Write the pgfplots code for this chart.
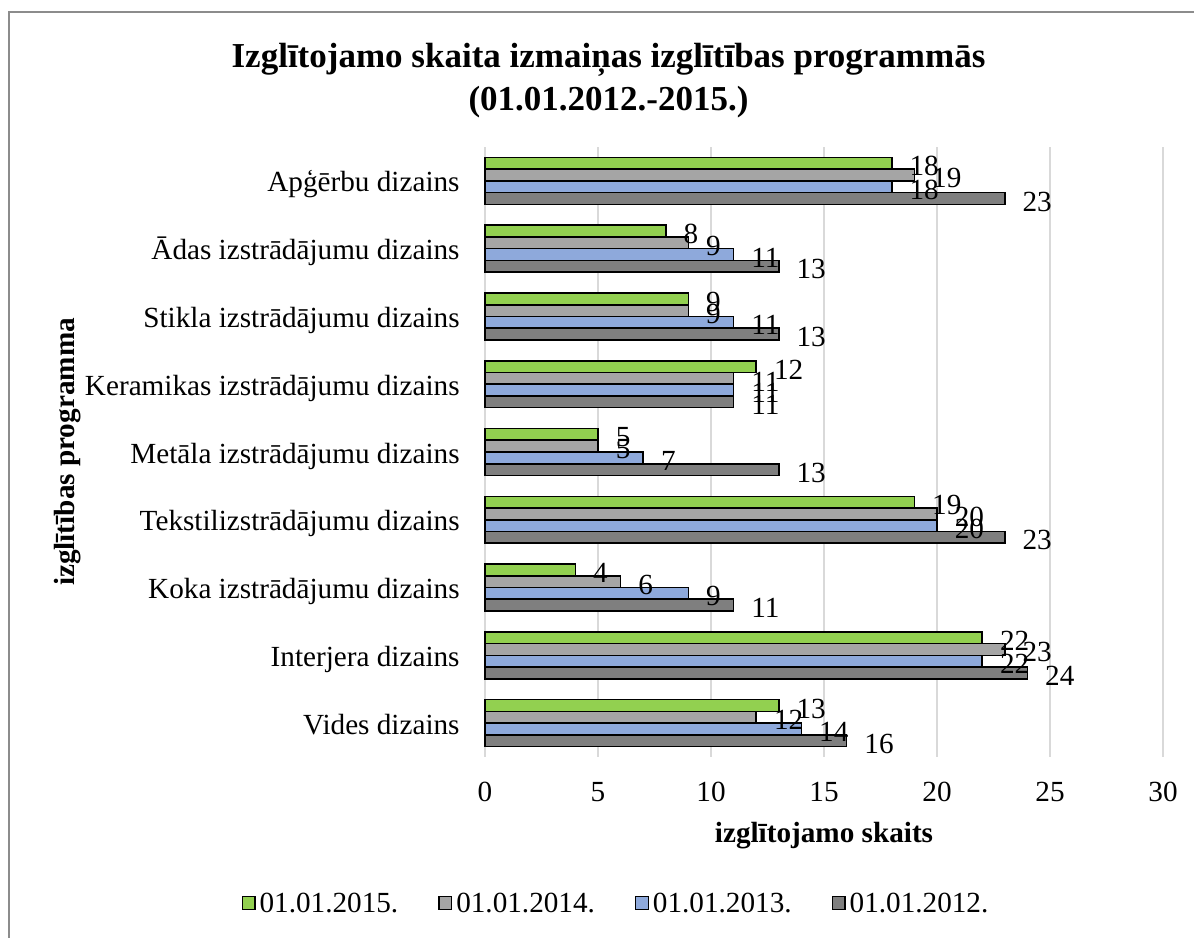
\documentclass[border=0pt]{standalone}
\usepackage{fontspec}
\setmainfont{Liberation Serif}
\usepackage{pgfplots}
\usepackage{pgfplotstable}
\pgfplotsset{compat=1.18}
\definecolor{cA}{HTML}{92D050}
\definecolor{cB}{HTML}{A5A5A5}
\definecolor{cC}{HTML}{8EA9DB}
\definecolor{cD}{HTML}{7F7F7F}
\definecolor{gridc}{HTML}{D9D9D9}
\definecolor{framec}{HTML}{8C8C8C}
\newcommand{\basefont}{\fontsize{14.6}{17.5}\selectfont}
\newcommand{\titlefont}{\fontsize{17.5}{21}\selectfont\bfseries}
\pgfplotsset{sqlegend/.style={/pgfplots/legend image code/.code={\draw[##1, line width=0.7pt] (0pt,-2.6pt) rectangle (6.3pt,3.7pt);}}}
% idx: 0 = Vides dizains (bottom) ... 8 = Apgerbu dizains (top)
\pgfplotstableread{
idx a2015 a2014 a2013 a2012
0 13 12 14 16
1 22 23 22 24
2 4 6 9 11
3 19 20 20 23
4 5 5 7 13
5 12 11 11 11
6 9 9 11 13
7 8 9 11 13
8 18 19 18 23
}\datatable
\begin{document}
\begin{tikzpicture}
\useasboundingbox (0,0) rectangle (597pt,468.5pt);
\fill[white] (0,0) rectangle (597pt,468.5pt);
\draw[framec, line width=0.75pt] (4.5pt,-2pt) -- (4.5pt,462.5pt) -- (600pt,462.5pt);
\node[anchor=base, font=\titlefont, inner sep=0pt] at (304.25pt,434.5pt) {Izglītojamo skaita izmaiņas izglītības programmās};
\node[anchor=base, font=\titlefont, inner sep=0pt] at (304.25pt,413pt) {(01.01.2012.-2015.)};
\node[anchor=base, font=\basefont\bfseries, inner sep=0pt] at (412pt,47pt) {izglītojamo skaits};
\node[rotate=90, anchor=base, font=\basefont\bfseries, inner sep=0pt] at (37pt,242.5pt) {izglītības programma};
\begin{axis}[
  at={(242.5pt,90pt)}, anchor=south west,
  scale only axis, width=339pt, height=305pt,
  xbar, bar width=0.173,
  every axis plot post/.append style={sqlegend},
  xmin=0, xmax=30, ymin=-0.5, ymax=8.5,
  xtick={0,5,...,30}, ytick={0,...,8},
  yticklabels={Vides dizains, Interjera dizains, Koka izstrādājumu dizains, Tekstilizstrādājumu dizains, Metāla izstrādājumu dizains, Keramikas izstrādājumu dizains, Stikla izstrādājumu dizains, Ādas izstrādājumu dizains, Apģērbu dizains},
  axis line style={draw=none},
  major tick length=0pt,
  xmajorgrids, grid style={gridc, line width=0.75pt},
  /pgf/number format/assume math mode=true,
  tick label style={font=\basefont},
  xticklabel style={anchor=north, inner sep=0pt, yshift=-12.5pt},
  yticklabel style={anchor=base east, inner sep=0pt, xshift=-12.5pt, yshift=-5.5pt},
  clip=false,
  nodes near coords,
  every node near coord/.append style={anchor=west, inner sep=0pt, xshift=8.5pt, yshift=-1.5pt, font=\basefont, text=black},
  legend columns=4,
  legend style={at={(0.1917,-0.241)}, anchor=center, draw=none, fill=none, inner sep=0pt,
    font=\basefont, nodes={inner sep=0pt},
    /tikz/every odd column/.append style={column sep=2pt},
    /tikz/every even column/.append style={column sep=20pt}},
]
\addplot[fill=cA, draw=black, line width=0.8pt, bar shift=0.2595] table[x=a2015, y=idx] {\datatable};
\addplot[fill=cB, draw=black, line width=0.8pt, bar shift=0.0865] table[x=a2014, y=idx] {\datatable};
\addplot[fill=cC, draw=black, line width=0.8pt, bar shift=-0.0865] table[x=a2013, y=idx] {\datatable};
\addplot[fill=cD, draw=black, line width=0.8pt, bar shift=-0.2595] table[x=a2012, y=idx] {\datatable};
\legend{01.01.2015., 01.01.2014., 01.01.2013., 01.01.2012.}
\end{axis}
\end{tikzpicture}
\end{document}
